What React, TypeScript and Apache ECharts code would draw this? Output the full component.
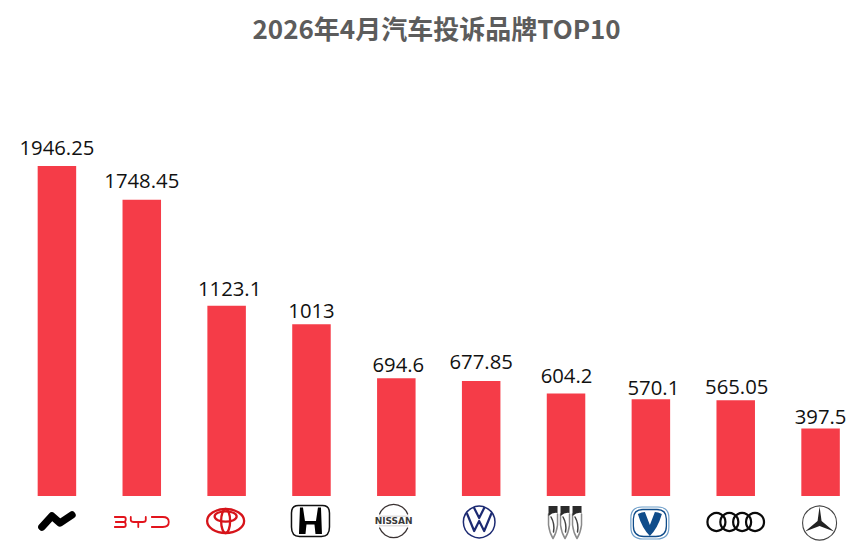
import React, { useEffect, useRef } from 'react';
import * as echarts from 'echarts';

const titleText = '2026年4月汽车投诉品牌TOP10';
const brands = ['Nio', 'BYD', 'Toyota', 'Honda', 'Nissan', 'Volkswagen', 'Buick', 'Changan', 'Audi', 'Mercedes'];
const complaints = [1946.25, 1748.45, 1123.1, 1013, 694.6, 677.85, 604.2, 570.1, 565.05, 397.5];

// 数值标签相对默认位置的微调
const labelShiftX = [0, 0, 3, 0, 2, 0, 0.5, 2.5, 1, 0];
const labelShiftY = [-3.5, -3.5, -2, 1.5, 1.5, -4, -3, 4, 2, 3];

// 品牌标志，原点为标志中心
const line = (d: string, stroke: string, lineWidth: number) => ({
  type: 'path',
  shape: { pathData: d },
  style: { fill: 'none', stroke, lineWidth, lineCap: 'round', lineJoin: 'round' },
});
const solid = (d: string, fill: string) => ({
  type: 'path',
  shape: { pathData: d },
  style: { fill },
});
const ring = (cx: number, cy: number, r: number, stroke: string, lineWidth: number) => ({
  type: 'circle',
  shape: { cx, cy, r },
  style: { fill: 'none', stroke, lineWidth },
});
const oval = (cx: number, cy: number, rx: number, ry: number, stroke: string, lineWidth: number) => ({
  type: 'ellipse',
  shape: { cx, cy, rx, ry },
  style: { fill: 'none', stroke, lineWidth },
});

const shield = (dx: number) => [
  line(
    `M${dx - 4.5},-8 V3 Q${dx - 3.5},11 ${dx},16.5 Q${dx + 3.5},11 ${dx + 4.5},3 V-8`,
    '#8a8a8a',
    1.5
  ),
  solid(`M${dx - 4.5},-16 H${dx + 4.5} V-9 Q${dx},-10 ${dx - 4.5},-6 Z`, '#2b2b2b'),
  line(`M${dx - 2},-5 Q${dx + 2},2 ${dx + 0.5},10`, '#444444', 1.5),
];

const logos: any[][] = [
  [line('M-15,6 L-5,-5 L3,2 L15,-6', '#000000', 7.5)],
  [
    line(
      'M-27,-5 H-18 Q-16,-5 -16,-3 Q-16,0 -18,0 H-26 M-18,0 Q-16,0 -16,3 Q-16,5 -18,5 H-27 M-11,-5 V-2 Q-11,0 -8,0 H1 Q4,0 4,-2 V-5 M-3.5,0 V5 M10,-5 H21 Q27,-5 27,0 Q27,5 21,5 H10',
      '#e2141c',
      1.8
    ),
  ],
  [
    oval(0, 0, 18.5, 12, '#d6141a', 2.3),
    oval(0, -4.5, 11, 5.2, '#d6141a', 2.3),
    oval(0, 0, 4.5, 12, '#d6141a', 2.3),
  ],
  [
    line(
      'M-12,-15.5 H12 Q19,-15.5 19,-8 V6 Q19,15.5 11,15.5 H-11 Q-19,15.5 -19,6 V-8 Q-19,-15.5 -12,-15.5 Z',
      '#111111',
      1.5
    ),
    solid('M-10.5,-13.5 H-7.5 L-5.5,0 H5.5 L7.5,-13.5 H10.5 L11.5,13 H5 L4,3.5 H-4 L-5,13 H-11.5 Z', '#000000'),
  ],
  [
    line('M-14,-7 A15,15 0 0 1 14,-7', '#3a3232', 1.3),
    line('M-14,7 A15,15 0 0 0 14,7', '#3a3232', 1.3),
    solid('M-15,-5.2 H15 V-4.5 H-15 Z M-15,4.6 H15 V5.3 H-15 Z', '#c4c0c0'),
    {
      type: 'text',
      style: {
        x: 0,
        y: 0.3,
        text: 'NISSAN',
        fill: '#3a3a3a',
        font: 'bold 9px "DejaVu Sans"',
        align: 'center',
        verticalAlign: 'middle',
      },
    },
  ],
  [
    ring(0, 0, 15.8, '#1c2a72', 1.5),
    line('M-12,-8 L-5,9 L0,-1 L5,9 L12,-8 M-5,-14 L0,-4 L5,-14', '#1c2a72', 2.2),
  ],
  [...shield(-12), ...shield(0), ...shield(12)],
  [
    line(
      'M-8,-16 H8 Q19,-16 19,-5 V4 Q19,16 7,16 H-7 Q-19,16 -19,4 V-5 Q-19,-16 -8,-16 Z',
      '#6f9fca',
      1.2
    ),
    line(
      'M-7,-13.5 H7 Q16.5,-13.5 16.5,-4 V3 Q16.5,13.5 6,13.5 H-6 Q-16.5,13.5 -16.5,3 V-4 Q-16.5,-13.5 -7,-13.5 Z',
      '#0f4c8a',
      1.3
    ),
    solid('M-12,-9 Q-8,-11 -5,-11 L0,2 L5,-11 Q8,-11 12,-9 Q8,5 0,13 Q-8,5 -12,-9 Z', '#0f4c8a'),
  ],
  [
    ring(-19.3, 0, 9, '#0a0a0a', 2.2),
    ring(-6.4, 0, 9, '#0a0a0a', 2.2),
    ring(6.4, 0, 9, '#0a0a0a', 2.2),
    ring(19.3, 0, 9, '#0a0a0a', 2.2),
  ],
  [
    ring(0, 0, 17, '#444444', 1.1),
    solid('M0,-16.5 L2,-2 L14.5,8.5 L0,3 L-14.5,8.5 L-2,-2 Z', '#222222'),
  ],
];

// 标志相对柱子中心的偏移
const logoOffsetX = [0, 0, -1, -1, -2.7, -2, -1, -1, 0, -1];
const logoOffsetY = [25, 26, 25, 25, 25, 26, 26, 27, 26, 27];

const App: React.FC = () => {
  const chartRef = useRef<HTMLDivElement>(null);

  useEffect(() => {
    if (!chartRef.current) return;
    const chart = echarts.init(chartRef.current, undefined, { renderer: 'svg' });

    chart.setOption({
      animation: false,
      backgroundColor: '#ffffff',
      title: {
        text: titleText,
        left: 247.5,
        top: 9,
        textStyle: {
          fontFamily: '"Noto Sans CJK SC"',
          fontSize: 26,
          fontWeight: 'bold',
          color: '#5c5c5c',
        },
      },
      grid: { left: 14.5, right: -0.5, top: 157, bottom: 60 },
      xAxis: {
        type: 'category',
        data: brands,
        axisLine: { show: false },
        axisTick: { show: false },
        axisLabel: { show: false },
      },
      yAxis: {
        type: 'value',
        min: 0,
        max: 2000,
        show: false,
        splitLine: { show: false },
      },
      series: [
        {
          type: 'bar',
          data: complaints.map((value, i) => ({
            value,
            label: { offset: [labelShiftX[i], labelShiftY[i]] },
          })),
          barWidth: 38.5,
          itemStyle: { color: '#f53c48' },
          label: {
            show: true,
            position: 'top',
            distance: 6,
            color: '#111111',
            fontFamily: '"Open Sans"',
            fontSize: 20.3,
          },
        },
        {
          type: 'custom',
          silent: true,
          clip: false,
          data: brands.map((_, i) => [i, 0]),
          renderItem: (_params: any, api: any) => {
            const i = api.value(0);
            const [x, y] = api.coord([i, 0]);
            return {
              type: 'group',
              x: x + logoOffsetX[i],
              y: y + logoOffsetY[i],
              children: logos[i],
            };
          },
        },
      ],
    });

    return () => {
      chart.dispose();
    };
  }, []);

  return <div ref={chartRef} style={{ width: 863, height: 556, position: 'absolute', left: 0, top: 0 }} />;
};

export default App;
